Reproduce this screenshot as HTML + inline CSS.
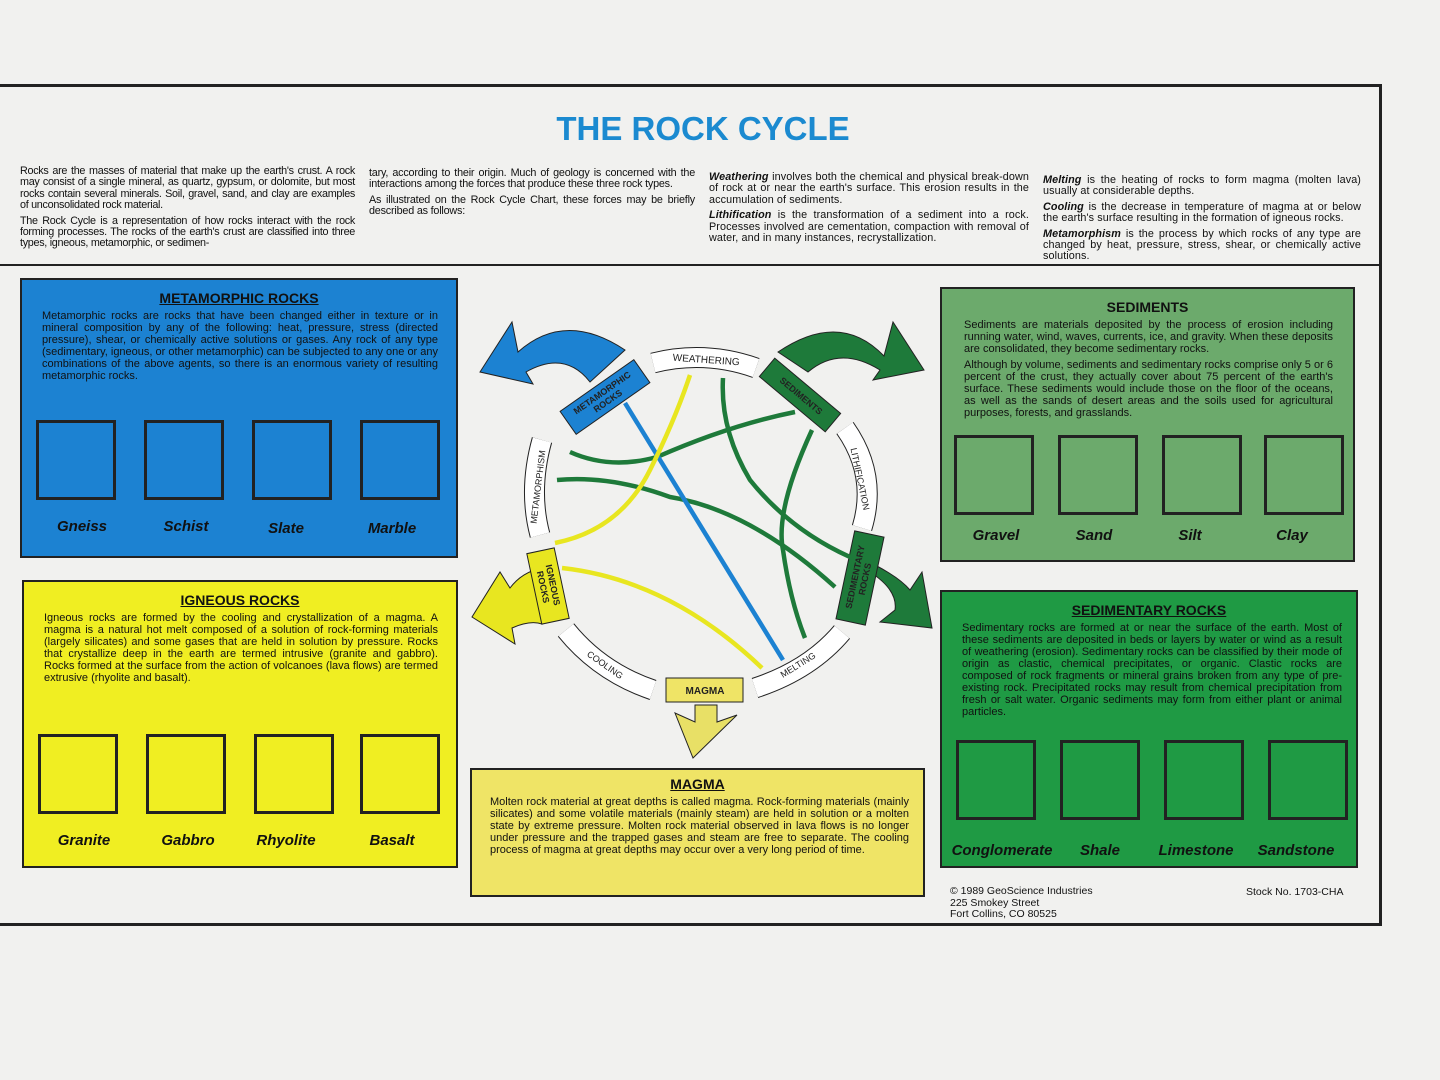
<!DOCTYPE html>
<html><head><meta charset="utf-8"><style>
body{margin:0;width:1440px;height:1080px;background:#f1f1ef;position:relative;overflow:hidden;font-family:"Liberation Sans",sans-serif;color:#111}
.a{position:absolute}
.t{font-size:10.8px;line-height:11.4px;text-align:justify}
.p{position:absolute;border:2px solid #222;box-sizing:border-box}
.pt{font-size:11px;line-height:12px;text-align:justify}
.h{font-weight:bold;font-size:14px;text-align:center;text-decoration:underline;margin-top:10px}
.bx{position:absolute;width:80px;height:80px;border:3px solid #222;box-sizing:border-box}
.lb{position:absolute;font-weight:bold;font-style:italic;font-size:15px;width:100px;text-align:center}
</style></head><body>
<div class="a" style="left:0;top:84px;width:1382px;height:842px;border-top:3px solid #222;border-right:3px solid #222;border-bottom:3px solid #222;box-sizing:border-box"></div>
<div class="a" style="left:0;top:264px;width:1382px;border-top:2px solid #222"></div>
<div class="a" style="left:0;top:110px;width:1406px;text-align:center;font-weight:bold;font-size:33px;color:#1b8ad0">THE ROCK CYCLE</div>
<div class="a t" style="left:20px;top:166px;width:335px;letter-spacing:-0.3px">Rocks are the masses of material that make up the earth's crust. A rock may consist of a single mineral, as quartz, gypsum, or dolomite, but most rocks contain several minerals. Soil, gravel, sand, and clay are examples of unconsolidated rock material.<div style="height:4px"></div>The Rock Cycle is a representation of how rocks interact with the rock forming processes. The rocks of the earth's crust are classified into three types, igneous, metamorphic, or sedimen-</div>
<div class="a t" style="left:369px;top:168px;width:326px;letter-spacing:-0.2px">tary, according to their origin. Much of geology is concerned with the interactions among the forces that produce these three rock types.<div style="height:4px"></div>As illustrated on the Rock Cycle Chart, these forces may be briefly described as follows:</div>
<div class="a t" style="left:709px;top:172px;width:320px;letter-spacing:0.1px"><b><i>Weathering</i></b> involves both the chemical and physical break-down of rock at or near the earth's surface. This erosion results in the accumulation of sediments.<div style="height:4px"></div><b><i>Lithification</i></b> is the transformation of a sediment into a rock. Processes involved are cementation, compaction with removal of water, and in many instances, recrystallization.</div>
<div class="a t" style="left:1043px;top:175px;width:318px;letter-spacing:0.1px"><b><i>Melting</i></b> is the heating of rocks to form magma (molten lava) usually at considerable depths.<div style="height:4px"></div><b><i>Cooling</i></b> is the decrease in temperature of magma at or below the earth's surface resulting in the formation of igneous rocks.<div style="height:4px"></div><b><i>Metamorphism</i></b> is the process by which rocks of any type are changed by heat, pressure, stress, shear, or chemically active solutions.</div>

<div class="p" style="left:20px;top:278px;width:438px;height:280px;background:#1c82d2">
<div class="h">METAMORPHIC ROCKS</div>
<div class="pt" style="margin:4px 18px 0 20px">Metamorphic rocks are rocks that have been changed either in texture or in mineral composition by any of the following: heat, pressure, stress (directed pressure), shear, or chemically active solutions or gases. Any rock of any type (sedimentary, igneous, or other metamorphic) can be subjected to any one or any combinations of the above agents, so there is an enormous variety of resulting metamorphic rocks.</div>
<div class="bx" style="left:14px;top:140px"></div><div class="bx" style="left:122px;top:140px"></div><div class="bx" style="left:230px;top:140px"></div><div class="bx" style="left:338px;top:140px"></div>
<div class="lb" style="left:10px;top:238px">Gneiss</div><div class="lb" style="left:114px;top:238px">Schist</div><div class="lb" style="left:214px;top:240px">Slate</div><div class="lb" style="left:320px;top:240px">Marble</div></div>

<div class="p" style="left:22px;top:580px;width:436px;height:288px;background:#f0ee22">
<div class="h">IGNEOUS ROCKS</div>
<div class="pt" style="margin:4px 18px 0 20px">Igneous rocks are formed by the cooling and crystallization of a magma. A magma is a natural hot melt composed of a solution of rock-forming materials (largely silicates) and some gases that are held in solution by pressure. Rocks that crystallize deep in the earth are termed intrusive (granite and gabbro). Rocks formed at the surface from the action of volcanoes (lava flows) are termed extrusive (rhyolite and basalt).</div>
<div class="bx" style="left:14px;top:152px"></div><div class="bx" style="left:122px;top:152px"></div><div class="bx" style="left:230px;top:152px"></div><div class="bx" style="left:336px;top:152px"></div>
<div class="lb" style="left:10px;top:250px">Granite</div><div class="lb" style="left:114px;top:250px">Gabbro</div><div class="lb" style="left:212px;top:250px">Rhyolite</div><div class="lb" style="left:318px;top:250px">Basalt</div></div>

<div class="p" style="left:940px;top:287px;width:415px;height:275px;background:#6caa6c">
<div class="h" style="text-decoration:none">SEDIMENTS</div>
<div class="pt" style="margin:4px 20px 0 22px">Sediments are materials deposited by the process of erosion including running water, wind, waves, currents, ice, and gravity. When these deposits are consolidated, they become sedimentary rocks.<div style="height:4px"></div>Although by volume, sediments and sedimentary rocks comprise only 5 or 6 percent of the crust, they actually cover about 75 percent of the earth's surface. These sediments would include those on the floor of the oceans, as well as the sands of desert areas and the soils used for agricultural purposes, forests, and grasslands.</div>
<div class="bx" style="left:12px;top:146px"></div><div class="bx" style="left:116px;top:146px"></div><div class="bx" style="left:220px;top:146px"></div><div class="bx" style="left:322px;top:146px"></div>
<div class="lb" style="left:4px;top:238px">Gravel</div><div class="lb" style="left:102px;top:238px">Sand</div><div class="lb" style="left:198px;top:238px">Silt</div><div class="lb" style="left:300px;top:238px">Clay</div></div>

<div class="p" style="left:940px;top:590px;width:418px;height:278px;background:#1f9a44">
<div class="h">SEDIMENTARY ROCKS</div>
<div class="pt" style="margin:4px 14px 0 20px">Sedimentary rocks are formed at or near the surface of the earth. Most of these sediments are deposited in beds or layers by water or wind as a result of weathering (erosion). Sedimentary rocks can be classified by their mode of origin as clastic, chemical precipitates, or organic. Clastic rocks are composed of rock fragments or mineral grains broken from any type of pre-existing rock. Precipitated rocks may result from chemical precipitation from fresh or salt water. Organic sediments may form from either plant or animal particles.</div>
<div class="bx" style="left:14px;top:148px"></div><div class="bx" style="left:118px;top:148px"></div><div class="bx" style="left:222px;top:148px"></div><div class="bx" style="left:326px;top:148px"></div>
<div class="lb" style="left:0;top:250px;width:120px">Conglomerate</div><div class="lb" style="left:108px;top:250px">Shale</div><div class="lb" style="left:204px;top:250px">Limestone</div><div class="lb" style="left:304px;top:250px">Sandstone</div></div>

<div class="p" style="left:470px;top:768px;width:455px;height:129px;background:#efe466">
<div class="h" style="margin-top:6px">MAGMA</div>
<div class="pt" style="margin:4px 14px 0 18px">Molten rock material at great depths is called magma. Rock-forming materials (mainly silicates) and some volatile materials (mainly steam) are held in solution or a molten state by extreme pressure. Molten rock material observed in lava flows is no longer under pressure and the trapped gases and steam are free to separate. The cooling process of magma at great depths may occur over a very long period of time.</div></div>

<div class="a" style="left:950px;top:886px;font-size:10.5px;line-height:11.5px">© 1989 GeoScience Industries<br>225 Smokey Street<br>Fort Collins, CO 80525</div>
<div class="a" style="left:1246px;top:886px;font-size:10.5px">Stock No. 1703-CHA</div>

<svg class="a" style="left:470px;top:310px" width="480" height="460" viewBox="0 0 480 460" font-family="Liberation Sans">
<g stroke="#222" stroke-width="1">
<path d="M155 40 Q95 0 48 42 L42 12 L10 62 L63 74 L56 62 Q95 40 120 72 Z" fill="#1c82d2"/>
<path d="M308 42 Q370 0 414 46 L423 12 L454 60 L403 70 L410 60 Q370 35 338 62 Z" fill="#1e7a3a"/>
<path d="M72 258 Q52 262 40 278 L30 262 L2 307 L45 334 L42 318 Q60 310 72 314 Z" fill="#e8e620"/>
<path d="M400 262 Q428 280 425 300 L410 312 L462 318 L452 262 L440 280 Q430 268 405 255 Z" fill="#1e7a3a"/>
<path d="M225 395 L247 395 L247 412 L267 405 L223 448 L205 403 L225 412 Z" fill="#e8e066"/>
</g>
<g fill="none" stroke="#222" stroke-width="21">
<path d="M183 53 Q235 40 286 58"/>
<path d="M72 130 Q58 180 70 225"/>
<path d="M375 118 Q408 165 392 218"/>
<path d="M96 320 Q130 362 183 380"/>
<path d="M285 378 Q340 360 372 322"/>
</g>
<g fill="none" stroke="#fff" stroke-width="19">
<path d="M183 53 Q235 40 286 58"/>
<path d="M72 130 Q58 180 70 225"/>
<path d="M375 118 Q408 165 392 218"/>
<path d="M96 320 Q130 362 183 380"/>
<path d="M285 378 Q340 360 372 322"/>
</g>
<g stroke="#222" stroke-width="1">
<rect x="-45" y="-14" width="90" height="28" fill="#1c82d2" transform="translate(135 87) rotate(-35)"/>
<rect x="-43" y="-12" width="86" height="24" fill="#1e7a3a" transform="translate(330 85) rotate(40)"/>
<rect x="-14" y="-36" width="28" height="72" fill="#e8e620" transform="translate(78 276) rotate(-12)"/>
<rect x="-15" y="-45" width="30" height="90" fill="#1e7a3a" transform="translate(390 268) rotate(12)"/>
<rect x="196" y="368" width="77" height="24" fill="#efe466"/>
</g>
<g fill="none" stroke-width="4.5">
<path d="M325 102 Q260 115 187 147 Q140 160 100 142" stroke="#1e7a3a"/>
<path d="M365 277 Q280 200 200 187 Q140 165 87 170" stroke="#1e7a3a"/>
<path d="M253 68 Q250 120 280 170 Q320 220 380 247" stroke="#1e7a3a"/>
<path d="M342 120 Q305 200 313 240 Q320 290 335 328" stroke="#1e7a3a"/>
<path d="M155 93 L313 350" stroke="#1c82d2"/>
<path d="M85 233 Q150 220 180 160 Q205 110 220 65" stroke="#e8e620"/>
<path d="M92 258 Q200 270 292 358" stroke="#e8e620"/>
</g>
<g font-size="10" fill="#222">
<text x="236" y="53" text-anchor="middle" transform="rotate(4 236 53)">WEATHERING</text>
<text x="135" y="85" text-anchor="middle" font-weight="bold" font-size="9" transform="rotate(-35 135 87)">METAMORPHIC</text>
<text x="135" y="95" text-anchor="middle" font-weight="bold" font-size="9" transform="rotate(-35 135 87)">ROCKS</text>
<text x="331" y="89" text-anchor="middle" font-weight="bold" font-size="9" transform="rotate(40 331 86)">SEDIMENTS</text>
<text x="68" y="180" text-anchor="middle" font-size="9" transform="rotate(-83 68 177)">METAMORPHISM</text>
<text x="390" y="172" text-anchor="middle" font-size="9" transform="rotate(78 390 169)">LITHIFICATION</text>
<text x="135" y="358" text-anchor="middle" font-size="9" transform="rotate(35 135 355)">COOLING</text>
<text x="328" y="358" text-anchor="middle" font-size="9" transform="rotate(-32 328 355)">MELTING</text>
<text x="235" y="384" text-anchor="middle" font-weight="bold">MAGMA</text>
<text x="78" y="274" text-anchor="middle" font-weight="bold" font-size="9" transform="rotate(78 78 276)">IGNEOUS</text>
<text x="78" y="284" text-anchor="middle" font-weight="bold" font-size="9" transform="rotate(78 78 276)">ROCKS</text>
<text x="390" y="266" text-anchor="middle" font-weight="bold" font-size="9" transform="rotate(-78 390 268)">SEDIMENTARY</text>
<text x="390" y="276" text-anchor="middle" font-weight="bold" font-size="9" transform="rotate(-78 390 268)">ROCKS</text>
</g>
</svg>
</body></html>
